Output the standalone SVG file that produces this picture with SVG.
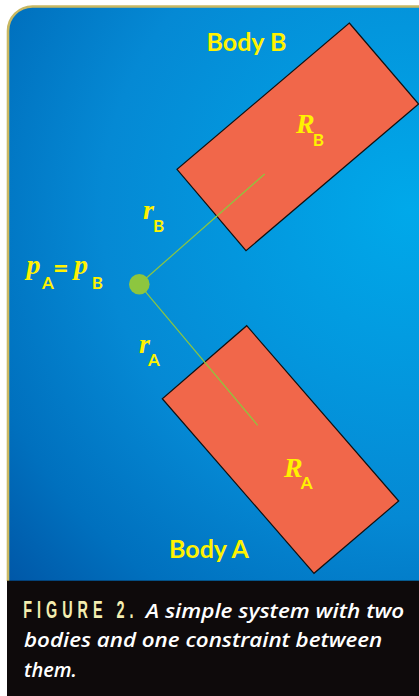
<svg xmlns="http://www.w3.org/2000/svg" width="419" height="696" viewBox="0 0 419 696">
<defs>
<radialGradient id="bg" gradientUnits="userSpaceOnUse" cx="410" cy="210" r="560">
<stop offset="0" stop-color="#00a9ea"/>
<stop offset="0.55" stop-color="#0589d4"/>
<stop offset="0.8" stop-color="#0070be"/>
<stop offset="1" stop-color="#0054a4"/>
</radialGradient>
<style>
.body{fill:#f1674a;stroke:#111;stroke-width:1.2}
.lbl{font-family:Lato,"Liberation Sans",sans-serif;font-weight:bold;fill:#fff200}
.it{font-family:"Liberation Serif","DejaVu Serif",serif;font-style:italic;font-weight:bold;fill:#fff200}
.sub{font-family:Lato,"Liberation Sans",sans-serif;font-weight:bold;fill:#fff200;font-size:17px}
.vec{stroke:#8dc63f;stroke-width:1.2;fill:none}
.cap{font-family:"Open Sans","Liberation Sans",sans-serif;font-style:italic;font-weight:600;font-size:20px;fill:#ffffff}
</style>
</defs>
<rect width="419" height="696" fill="#ffffff"/>
<path d="M8,581 V31 A24.5,24.5 0 0 1 32.5,6.5 H419 V581 Z" fill="url(#bg)"/>
<path d="M8,581 V31 A24.5,24.5 0 0 1 32.5,6.5 H419" fill="none" stroke="#c9b862" stroke-width="2.6"/>
<rect x="7" y="580.7" width="412" height="115.3" fill="#0e0a0b"/>

<g id="bodyB">
<polygon class="body" points="349.3,23 418.6,104 246,250.7 177,169.3"/>
<text class="lbl" x="246.5" y="50.7" font-size="25" text-anchor="middle">Body B</text>
<text class="it" x="296" y="132.7" font-size="28">R</text>
<text class="sub" x="312.8" y="145.7">B</text>
</g>

<g id="bodyA">
<polygon class="body" points="246.7,325.7 398.7,501 314,573.3 162.3,398.7"/>
<text class="lbl" x="209" y="558.3" font-size="25" text-anchor="middle">Body A</text>
<text class="it" x="284" y="476.7" font-size="28">R</text>
<text class="sub" x="300.8" y="489.3">A</text>
</g>

<g id="connectors">
<line class="vec" x1="139.3" y1="284.3" x2="264.7" y2="174"/>
<line class="vec" x1="139.3" y1="284.3" x2="257.7" y2="425.3"/>
</g>

<g id="joint">
<circle cx="139.3" cy="284.3" r="10.3" fill="#8dc63f"/>
<text class="it" x="26.5" y="274" font-size="28">p</text>
<text class="sub" x="42" y="288.7">A</text>
<text class="lbl" x="53" y="276.5" font-size="27">=</text>
<text class="it" x="74" y="274" font-size="28">p</text>
<text class="sub" x="91.7" y="289">B</text>
<text class="it" x="143" y="219" font-size="28">r</text>
<text class="sub" x="153" y="232.3">B</text>
<text class="it" x="139" y="353.3" font-size="28">r</text>
<text class="sub" x="148" y="366">A</text>
</g>

<g id="caption">
<text transform="translate(23.3,618.3) scale(0.6,1)" x="0" y="0" font-family="'Liberation Sans',sans-serif" font-weight="bold" font-size="24" fill="#f4eeb0" letter-spacing="8.3">FIGURE 2.</text>
<text class="cap" x="145.7" y="618.3" textLength="258.6" lengthAdjust="spacingAndGlyphs">A simple system with two</text>
<text class="cap" x="24" y="647.3" textLength="358.3" lengthAdjust="spacingAndGlyphs">bodies and one constraint between</text>
<text class="cap" x="24" y="676.7">them.</text>
</g>
</svg>
